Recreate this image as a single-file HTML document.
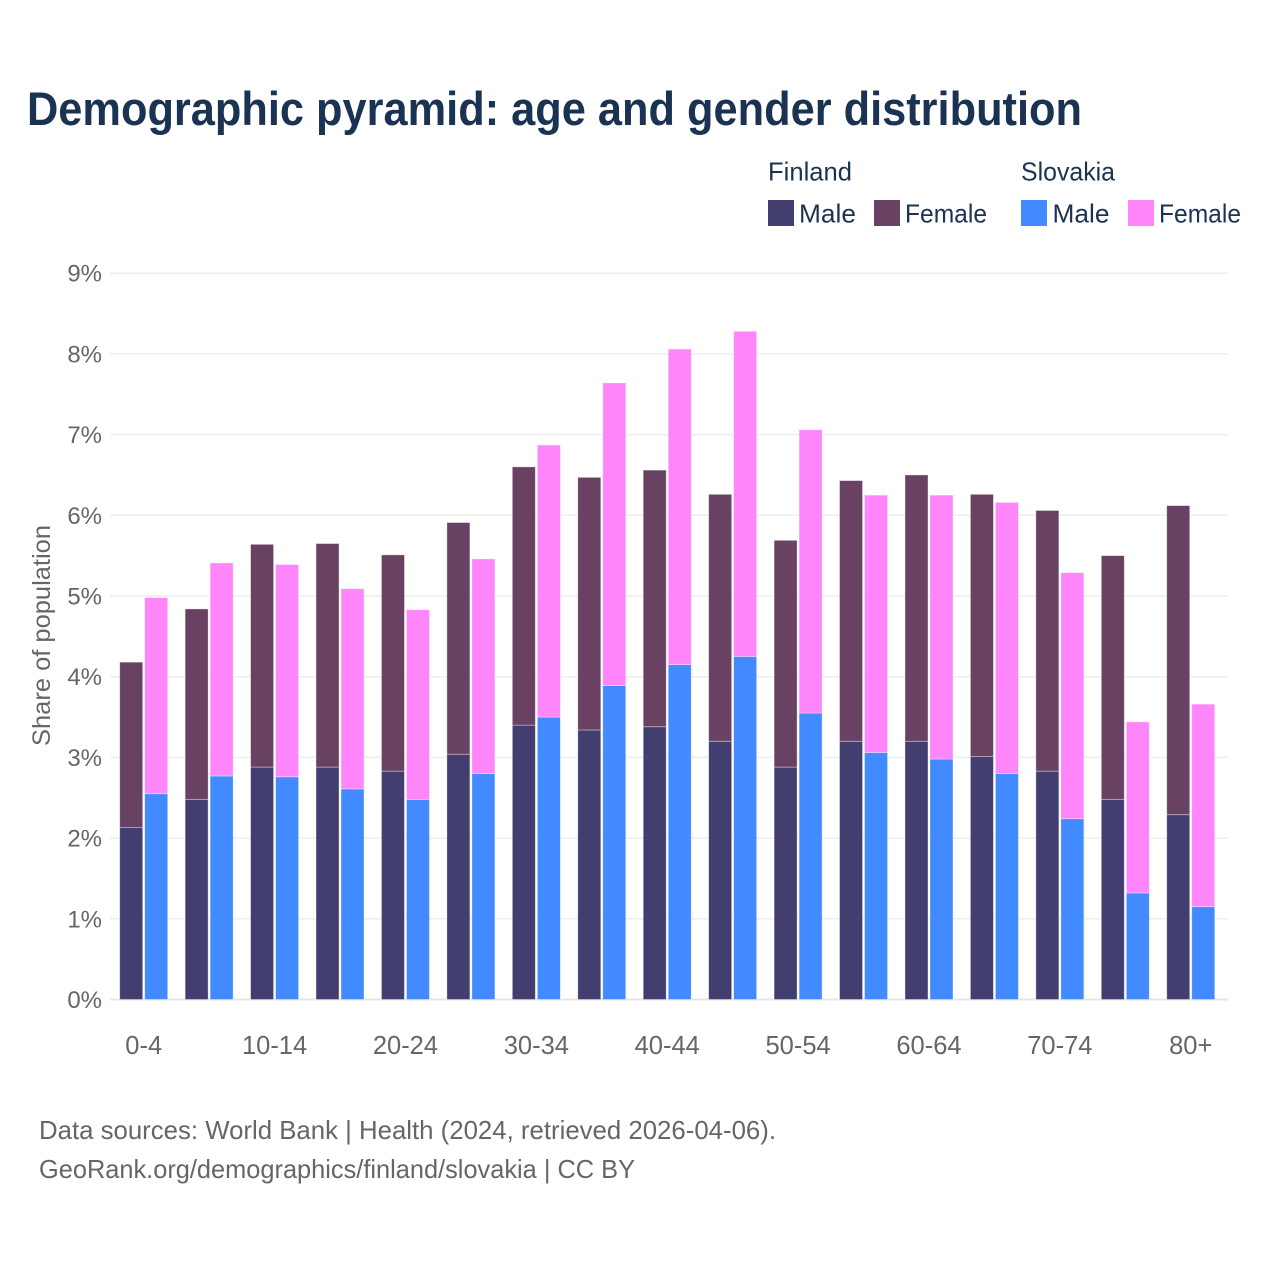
<!DOCTYPE html>
<html lang="en">
<head>
<meta charset="utf-8">
<title>Demographic pyramid: age and gender distribution</title>
<style>
html,body{margin:0;padding:0;background:#fff}
svg{display:block}
text{font-family:"Liberation Sans",sans-serif}
</style>
</head>
<body>
<svg id="chart" width="1280" height="1280" viewBox="0 0 1280 1280" xmlns="http://www.w3.org/2000/svg">
  <rect x="0" y="0" width="1280" height="1280" fill="#ffffff"/>
  <text x="27" y="125" font-size="47" font-weight="700" fill="#1a3353" textLength="1055" lengthAdjust="spacingAndGlyphs">Demographic pyramid: age and gender distribution</text>

  <g font-size="26" fill="#1a3353">
    <text x="768" y="180.5" textLength="84" lengthAdjust="spacingAndGlyphs">Finland</text>
    <text x="1021" y="180.5" textLength="94" lengthAdjust="spacingAndGlyphs">Slovakia</text>
    <rect x="768" y="200" width="26" height="26" fill="#433e70"/>
    <text x="799" y="222.5" textLength="57" lengthAdjust="spacingAndGlyphs">Male</text>
    <rect x="874" y="200" width="26" height="26" fill="#684163"/>
    <text x="905" y="222.5" textLength="82" lengthAdjust="spacingAndGlyphs">Female</text>
    <rect x="1021" y="200" width="26" height="26" fill="#418aff"/>
    <text x="1052.5" y="222.5" textLength="57" lengthAdjust="spacingAndGlyphs">Male</text>
    <rect x="1128" y="200" width="26" height="26" fill="#ff85fa"/>
    <text x="1159" y="222.5" textLength="82" lengthAdjust="spacingAndGlyphs">Female</text>
  </g>

  <g id="grid"></g>
  <g id="y-axis"></g>
  <g id="bars"></g>
  <g id="x-axis"></g>

  <text transform="translate(50 635.5) rotate(-90)" text-anchor="middle" font-size="25" fill="#666666" textLength="221" lengthAdjust="spacingAndGlyphs">Share of population</text>

  <text x="39" y="1139" font-size="26" fill="#666666" textLength="737" lengthAdjust="spacingAndGlyphs">Data sources: World Bank | Health (2024, retrieved 2026-04-06).</text>
  <text x="39" y="1178" font-size="26" fill="#666666" textLength="596" lengthAdjust="spacingAndGlyphs">GeoRank.org/demographics/finland/slovakia | CC BY</text>
</svg>
<script>
const categories = ["0-4","5-9","10-14","15-19","20-24","25-29","30-34","35-39","40-44","45-49","50-54","55-59","60-64","65-69","70-74","75-79","80+"];
const tickCategories = ["0-4","10-14","20-24","30-34","40-44","50-54","60-64","70-74","80+"];
const yTicks = [0,1,2,3,4,5,6,7,8,9];
const finlandMale = [2.13,2.48,2.88,2.88,2.83,3.04,3.40,3.34,3.38,3.20,2.88,3.20,3.20,3.01,2.83,2.48,2.29];
const finlandFemale = [2.05,2.36,2.76,2.77,2.68,2.87,3.20,3.13,3.18,3.06,2.81,3.23,3.30,3.25,3.23,3.02,3.83];
const slovakiaMale = [2.55,2.77,2.76,2.61,2.48,2.80,3.50,3.89,4.15,4.25,3.55,3.06,2.98,2.80,2.24,1.32,1.15];
const slovakiaFemale = [2.43,2.64,2.63,2.48,2.35,2.66,3.37,3.75,3.91,4.03,3.51,3.19,3.27,3.36,3.05,2.12,2.51];

const NS = "http://www.w3.org/2000/svg";
const plotLeft = 110, plotRight = 1228, baseY = 999.5, pxPerUnit = 80.7;
const firstCenter = 143.7, step = 65.44, barW = 23;
const yScale = v => baseY - v * pxPerUnit;
const xScale = i => firstCenter + i * step;

const gridG = document.getElementById("grid");
const yAxisG = document.getElementById("y-axis");
const barsG = document.getElementById("bars");
const xAxisG = document.getElementById("x-axis");

yTicks.forEach(t => {
  const line = document.createElementNS(NS, "line");
  line.setAttribute("x1", plotLeft);
  line.setAttribute("x2", plotRight);
  line.setAttribute("y1", yScale(t));
  line.setAttribute("y2", yScale(t));
  line.setAttribute("stroke", t === 0 ? "#e6e6e6" : "#eeeeee");
  line.setAttribute("stroke-width", t === 0 ? 2 : 1.5);
  
  
  gridG.appendChild(line);

  const label = document.createElementNS(NS, "text");
  label.setAttribute("x", 102);
  label.setAttribute("y", yScale(t) + 8.5);
  label.setAttribute("text-anchor", "end");
  label.setAttribute("font-size", 24);
  label.setAttribute("fill", "#666666");
  
  
  label.textContent = t + "%";
  yAxisG.appendChild(label);
});

function addBar(x, bottomVal, val, fill, name) {
  const r = document.createElementNS(NS, "rect");
  r.setAttribute("x", x);
  r.setAttribute("width", barW);
  r.setAttribute("y", yScale(bottomVal + val));
  r.setAttribute("height", val * pxPerUnit);
  r.setAttribute("fill", fill);
  r.setAttribute("stroke", "#ffffff");
  r.setAttribute("stroke-opacity", "0.45");
  r.setAttribute("stroke-width", "0.8");
  
  
  barsG.appendChild(r);
}

categories.forEach((c, i) => {
  const cx = xScale(i);
  addBar(cx - 24, 0, finlandMale[i], "#433e70", "bar-finland-male");
  addBar(cx - 24, finlandMale[i], finlandFemale[i], "#684163", "bar-finland-female");
  addBar(cx + 1, 0, slovakiaMale[i], "#418aff", "bar-slovakia-male");
  addBar(cx + 1, slovakiaMale[i], slovakiaFemale[i], "#ff85fa", "bar-slovakia-female");
});

tickCategories.forEach(c => {
  const label = document.createElementNS(NS, "text");
  label.setAttribute("x", xScale(categories.indexOf(c)));
  label.setAttribute("y", 1054);
  label.setAttribute("text-anchor", "middle");
  label.setAttribute("font-size", 25.5);
  label.setAttribute("fill", "#666666");
  
  
  label.textContent = c;
  xAxisG.appendChild(label);
});
</script>
</body>
</html>
